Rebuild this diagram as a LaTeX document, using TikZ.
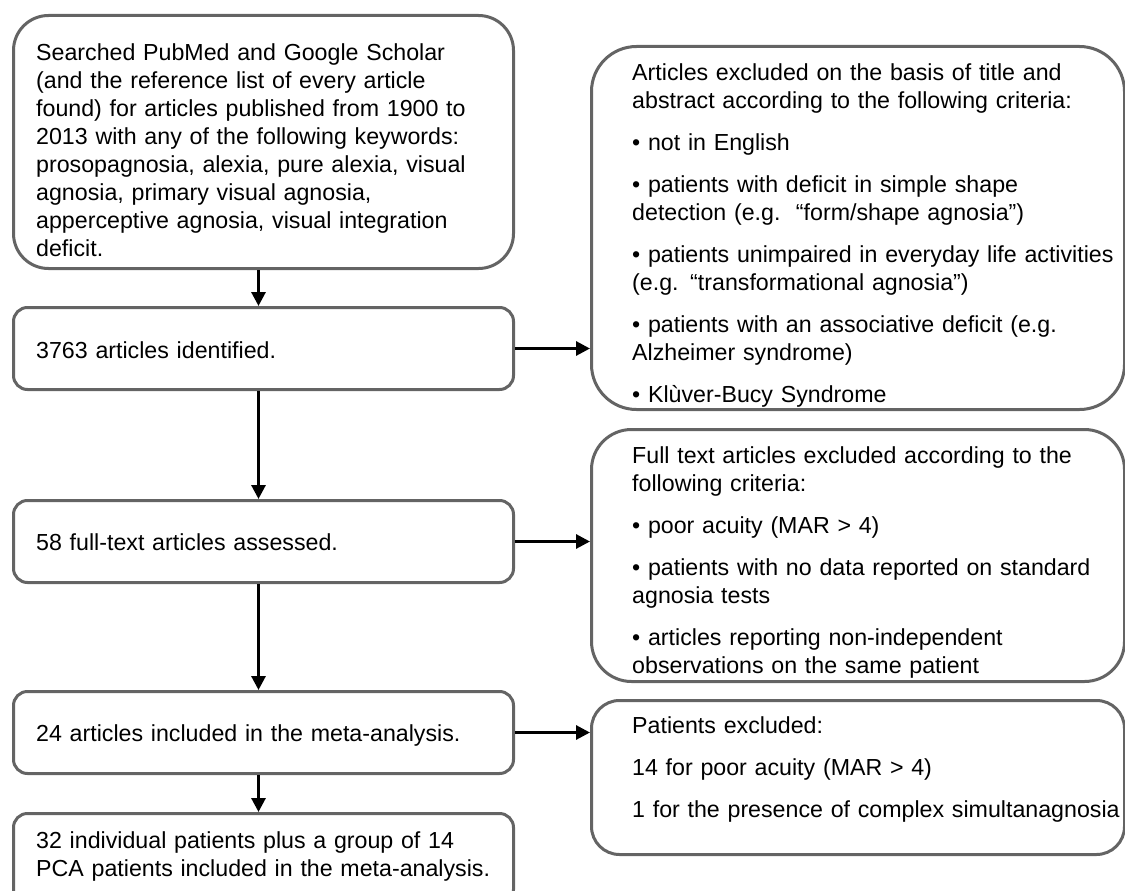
\documentclass[tikz,border=0pt]{standalone}
\usepackage{fontspec}
\setmainfont{Liberation Sans}
\definecolor{framegray}{RGB}{100,100,100}
\usetikzlibrary{arrows.meta,positioning,calc}

\tikzset{
  frame/.style={draw=framegray, line width=3pt, fill=white, anchor=north west, inner sep=0pt},
  txt/.style={anchor=base west, inner sep=0pt, align=left, text width=#1,
    font=\fontsize{23.2}{28}\selectfont},
  txt/.default=500pt,
  flow/.style={-{Triangle[length=14pt,width=14pt]}, line width=3pt, black},
}

\begin{document}
\begin{tikzpicture}[x=1pt, y=-1pt]
\useasboundingbox (0,0) rectangle (1125,891);

% left column: the search and what is kept
\node[frame, rounded corners=35pt, minimum width=500pt, minimum height=253pt] (search) at (12,14) {};
\node[frame, rounded corners=14pt, minimum width=500pt, minimum height=82pt] (ident) at (12,306) {};
\node[frame, rounded corners=14pt, minimum width=500pt, minimum height=82pt] (assess) at (12,499) {};
\node[frame, rounded corners=14pt, minimum width=500pt, minimum height=82pt] (incl) at (12,690) {};
\node[frame, rounded corners=14pt, minimum width=500pt, minimum height=90pt] (final) at (12,812) {};

% right column: what is left out
\node[frame, rounded corners=45pt, minimum width=533pt, minimum height=363pt] (critA) at (590,45) {};
\node[frame, rounded corners=40pt, minimum width=533pt, minimum height=252pt] (critB) at (590,428) {};
\node[frame, rounded corners=28pt, minimum width=533pt, minimum height=154pt] (critC) at (590,699) {};

\node[txt] (searchtxt) at ([shift={(24,47)}]search.north west) {Searched PubMed and Google Scholar\\
  (and the reference list of every article\\
  found) for articles published from 1900 to\\
  2013 with any of the following keywords:\\
  prosopagnosia, alexia, pure alexia, visual\\
  agnosia, primary visual agnosia,\\
  apperceptive agnosia, visual integration\\
  deficit.};
\node[txt] (identtxt) at ([shift={(24,52)}]ident.north west) {3763 articles identified.};
\node[txt] (assesstxt) at ([shift={(24,51)}]assess.north west) {58 full-text articles assessed.};
\node[txt] (incltxt) at ([shift={(24,51)}]incl.north west) {24 articles included in the meta-analysis.};
\node[txt] (finaltxt) at ([shift={(24,36)}]final.north west) {32 individual patients plus a group of 14\\
  PCA patients included in the meta-analysis.};

\node[txt] (critAtxt) at ([shift={(42,36)}]critA.north west) {Articles excluded on the basis of title and\\
  abstract according to the following criteria:\\[14pt]
  • not in English\\[14pt]
  • patients with deficit in simple shape\\
  detection (e.g.\ \ “form/shape agnosia”)\\[14pt]
  • patients unimpaired in everyday life activities\\
  (e.g. “transformational agnosia”)\\[14pt]
  • patients with an associative deficit (e.g.\\
  Alzheimer syndrome)\\[14pt]
  • Klùver-Bucy Syndrome};
\node[txt] (critBtxt) at ([shift={(42,35)}]critB.north west) {Full text articles excluded according to the\\
  following criteria:\\[14pt]
  • poor acuity (MAR > 4)\\[14pt]
  • patients with no data reported on standard\\
  agnosia tests\\[14pt]
  • articles reporting non-independent\\
  observations on the same patient};
\node[txt] (critCtxt) at ([shift={(42,34)}]critC.north west) {Patients excluded:\\[14pt]
  14 for poor acuity (MAR > 4)\\[14pt]
  1 for the presence of complex simultanagnosia};

% connectors
\draw[flow] ([xshift=-5pt]search.south) -- ([xshift=-5pt]ident.north);
\draw[flow] ([xshift=-5pt]ident.south) -- ([xshift=-5pt]assess.north);
\draw[flow] ([xshift=-5pt]assess.south) -- ([xshift=-5pt]incl.north);
\draw[flow] ([xshift=-5pt]incl.south) -- ([xshift=-5pt]final.north);
\draw[flow] (ident.east) -- (ident.east -| critA.west);
\draw[flow] (assess.east) -- (assess.east -| critB.west);
\draw[flow] (incl.east) -- (incl.east -| critC.west);
\end{tikzpicture}
\end{document}
